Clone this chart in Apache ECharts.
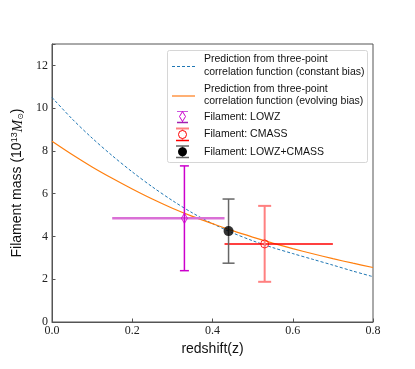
<!DOCTYPE html>
<html>
<head>
<meta charset="utf-8">
<script src="https://cdn.jsdelivr.net/npm/echarts@6/dist/echarts.min.js"></script>
<style>
  html, body { margin: 0; padding: 0; background: #fff; }
  #chart { width: 415px; height: 369px; }
</style>
</head>
<body>
<div id="chart"></div>
<script>
// redshift grid used for the two prediction curves
const zGrid = [0, 0.05, 0.1, 0.15, 0.2, 0.25, 0.3, 0.35, 0.4, 0.45, 0.5, 0.55, 0.6, 0.65, 0.7, 0.75, 0.8];
// prediction, constant bias (blue dashed)
const massConstBias = [10.5, 9.5, 8.6, 7.78, 7.02, 6.32, 5.68, 5.1, 4.6, 4.17, 3.8, 3.48, 3.2, 2.93, 2.66, 2.38, 2.12];
// prediction, evolving bias (orange)
const massEvolBias = [8.45, 7.83, 7.25, 6.72, 6.22, 5.75, 5.32, 4.94, 4.6, 4.27, 3.97, 3.69, 3.43, 3.19, 2.96, 2.75, 2.55];

// measurements: [z, mass], z range, mass range
const lowzPoint = [0.33, 4.85];
const lowzZRange = [0.15, 0.43];
const lowzMassRange = [2.4, 7.3];

const cmassPoint = [0.53, 3.65];
const cmassZRange = [0.43, 0.70];
const cmassMassRange = [1.88, 5.43];

const bothPoint = [0.44, 4.25];
const bothMassRange = [2.75, 5.75];

const xTicks = [0, 0.2, 0.4, 0.6, 0.8];
const yTicks = [0, 2, 4, 6, 8, 10, 12];

const SANS = '"Liberation Sans", "DejaVu Sans", sans-serif';
const SERIF = '"Liberation Serif", "DejaVu Serif", serif';

const chart = echarts.init(document.getElementById('chart'));

function pairs(xs, ys) {
  return xs.map((x, i) => [x, ys[i]]);
}

// error bar drawn through the axes: data = [x, y, x0, x1, y0, y1]
function errBar(opt) {
  return function (params, api) {
    const kids = [];
    const x = api.value(0), y = api.value(1);
    if (opt.xbar) {
      const a = api.coord([api.value(2), y]);
      const b = api.coord([api.value(3), y]);
      kids.push({ type: 'line', shape: { x1: a[0], y1: a[1], x2: b[0], y2: b[1] },
        style: { stroke: opt.xColor, lineWidth: opt.xWidth } });
    }
    if (opt.ybar) {
      const lo = api.coord([x, api.value(4)]);
      const hi = api.coord([x, api.value(5)]);
      const c = opt.cap;
      kids.push({ type: 'line', shape: { x1: lo[0], y1: lo[1], x2: hi[0], y2: hi[1] },
        style: { stroke: opt.yColor, lineWidth: opt.yWidth } });
      kids.push({ type: 'line', shape: { x1: lo[0] - c, y1: lo[1], x2: lo[0] + c, y2: lo[1] },
        style: { stroke: opt.yColor, lineWidth: opt.yWidth } });
      kids.push({ type: 'line', shape: { x1: hi[0] - c, y1: hi[1], x2: hi[0] + c, y2: hi[1] },
        style: { stroke: opt.yColor, lineWidth: opt.yWidth } });
    }
    return { type: 'group', children: kids };
  };
}

const diamond = 'path://M0,-1 L0.6,0 L0,1 L-0.6,0 Z';

// legend drawn by hand (matplotlib style box)
const LX = 204;
const legendTextStyle = { font: '10.5px ' + SANS, fill: '#111' };
function legText(t, y) {
  return { type: 'text', x: LX, y: y, style: Object.assign({ text: t, verticalAlign: 'middle' }, legendTextStyle) };
}
const legend = [
  { type: 'rect', shape: { x: 167.5, y: 50.5, width: 200, height: 112, r: 2 },
    style: { fill: 'rgba(255,255,255,0.85)', stroke: '#d6d6d6', lineWidth: 1 } },
  { type: 'line', shape: { x1: 172, y1: 66.5, x2: 195, y2: 66.5 },
    style: { stroke: '#1f77b4', lineWidth: 1, lineDash: [3, 2] } },
  legText('Prediction from three-point', 59.5),
  legText('correlation function (constant bias)', 72),
  { type: 'line', shape: { x1: 172, y1: 96, x2: 195, y2: 96 },
    style: { stroke: '#ffb074', lineWidth: 2 } },
  legText('Prediction from three-point', 89),
  legText('correlation function (evolving bias)', 101),
  // LOWZ icon
  { type: 'line', shape: { x1: 177, y1: 111.5, x2: 188, y2: 111.5 }, style: { stroke: '#cc55dd', lineWidth: 1 } },
  { type: 'line', shape: { x1: 182.5, y1: 111.5, x2: 182.5, y2: 122 }, style: { stroke: '#cc00cc', lineWidth: 1 } },
  { type: 'line', shape: { x1: 177, y1: 122.5, x2: 188, y2: 122.5 }, style: { stroke: '#a020b0', lineWidth: 1.5 } },
  { type: 'polygon', shape: { points: [[182.5, 111.5], [185.5, 116.5], [182.5, 121.5], [179.5, 116.5]] },
    style: { fill: '#fff', stroke: '#cc00cc', lineWidth: 1 } },
  legText('Filament: LOWZ', 117.5),
  // CMASS icon
  { type: 'line', shape: { x1: 176, y1: 128.5, x2: 189, y2: 128.5 }, style: { stroke: '#ff8080', lineWidth: 2 } },
  { type: 'line', shape: { x1: 182.5, y1: 128.5, x2: 182.5, y2: 140 }, style: { stroke: '#ff8080', lineWidth: 1.5 } },
  { type: 'line', shape: { x1: 176, y1: 140.5, x2: 189, y2: 140.5 }, style: { stroke: '#ff0000', lineWidth: 1.5 } },
  { type: 'circle', shape: { cx: 182.5, cy: 134.5, r: 4 }, style: { fill: '#fff', stroke: '#ff0000', lineWidth: 1 } },
  legText('Filament: CMASS', 134.5),
  // LOWZ+CMASS icon
  { type: 'line', shape: { x1: 176, y1: 146, x2: 189, y2: 146 }, style: { stroke: '#666', lineWidth: 1.5 } },
  { type: 'line', shape: { x1: 182.5, y1: 146, x2: 182.5, y2: 157.5 }, style: { stroke: '#666', lineWidth: 1.5 } },
  { type: 'line', shape: { x1: 176, y1: 157.5, x2: 189, y2: 157.5 }, style: { stroke: '#666', lineWidth: 1.5 } },
  { type: 'circle', shape: { cx: 182.5, cy: 151.8, r: 4.5 }, style: { fill: '#000' } },
  legText('Filament: LOWZ+CMASS', 152)
];

const option = {
  animation: false,
  backgroundColor: '#fff',
  grid: { left: 52, right: 42, top: 44, bottom: 47, show: true, borderColor: '#555', borderWidth: 1 },
  xAxis: {
    type: 'value', min: 0, max: 0.8, interval: 0.2,
    name: 'redshift(z)', nameLocation: 'middle', nameGap: 17,
    nameTextStyle: { fontFamily: SANS, fontSize: 14, color: '#111' },
    axisLine: { lineStyle: { color: '#555' } },
    axisTick: { inside: true, length: 3.5, lineStyle: { color: '#555' } },
    axisLabel: { fontFamily: SERIF, fontSize: 12, color: '#222', margin: 3,
      formatter: v => v.toFixed(1) },
    splitLine: { show: false }
  },
  yAxis: {
    type: 'value', min: 0, max: 13, interval: 2,
    name: '{n|Filament mass (10}{s|13}{i|M}{b|⊙}{n|)}',
    nameLocation: 'middle', nameGap: 17, nameRotate: 90,
    nameTextStyle: {
      color: '#111',
      rich: {
        n: { fontFamily: SANS, fontSize: 14, color: '#111', verticalAlign: 'middle' },
        s: { fontFamily: SANS, fontSize: 9, color: '#111', verticalAlign: 'top', padding: [0, 0, 6, 0] },
        i: { fontFamily: SERIF, fontStyle: 'italic', fontSize: 15, color: '#111' },
        b: { fontFamily: SANS, fontSize: 8, color: '#111', verticalAlign: 'bottom', padding: [6, 0, 0, 0] }
      }
    },
    axisLine: { show: true, lineStyle: { color: '#555' } },
    axisTick: { show: true, inside: true, length: 3.5, lineStyle: { color: '#555' } },
    axisLabel: { fontFamily: SERIF, fontSize: 12, color: '#222', margin: 4,
      formatter: v => (yTicks.indexOf(v) >= 0 ? String(v) : '') },
    splitLine: { show: false }
  },
  graphic: legend,
  series: [
    {
      type: 'line', name: 'const', data: pairs(zGrid, massConstBias),
      smooth: 0.3, showSymbol: false, z: 2,
      lineStyle: { color: '#1f77b4', width: 1, type: [3, 2] }
    },
    {
      type: 'line', name: 'evol', data: pairs(zGrid, massEvolBias),
      smooth: 0.3, showSymbol: false, z: 2,
      lineStyle: { color: '#ff7f0e', width: 1.2 }
    },
    {
      type: 'custom', z: 3,
      renderItem: errBar({ xbar: true, ybar: true, xColor: '#da70d6', xWidth: 2.5,
        yColor: '#cc00cc', yWidth: 1.5, cap: 4.5 }),
      data: [[lowzPoint[0], lowzPoint[1], lowzZRange[0], lowzZRange[1], lowzMassRange[0], lowzMassRange[1]]]
    },
    {
      type: 'custom', z: 3,
      renderItem: errBar({ xbar: true, ybar: true, xColor: '#ff0000', xWidth: 1.5,
        yColor: '#ff8080', yWidth: 2, cap: 6.5 }),
      data: [[cmassPoint[0], cmassPoint[1], cmassZRange[0], cmassZRange[1], cmassMassRange[0], cmassMassRange[1]]]
    },
    {
      type: 'custom', z: 3,
      renderItem: errBar({ xbar: false, ybar: true, yColor: '#666666', yWidth: 1.5, cap: 6 }),
      data: [[bothPoint[0], bothPoint[1], bothPoint[0], bothPoint[0], bothMassRange[0], bothMassRange[1]]]
    },
    {
      type: 'scatter', z: 4, data: [lowzPoint], symbol: diamond, symbolSize: [6, 10],
      itemStyle: { color: 'rgba(255,255,255,0)', borderColor: '#cc00cc', borderWidth: 1 }
    },
    {
      type: 'scatter', z: 4, data: [cmassPoint], symbol: 'circle', symbolSize: 8,
      itemStyle: { color: 'rgba(255,255,255,0)', borderColor: '#ff0000', borderWidth: 1 }
    },
    {
      type: 'scatter', z: 4, data: [bothPoint], symbol: 'circle', symbolSize: 10,
      itemStyle: { color: '#000' }
    }
  ]
};

chart.setOption(option);
</script>
</body>
</html>
